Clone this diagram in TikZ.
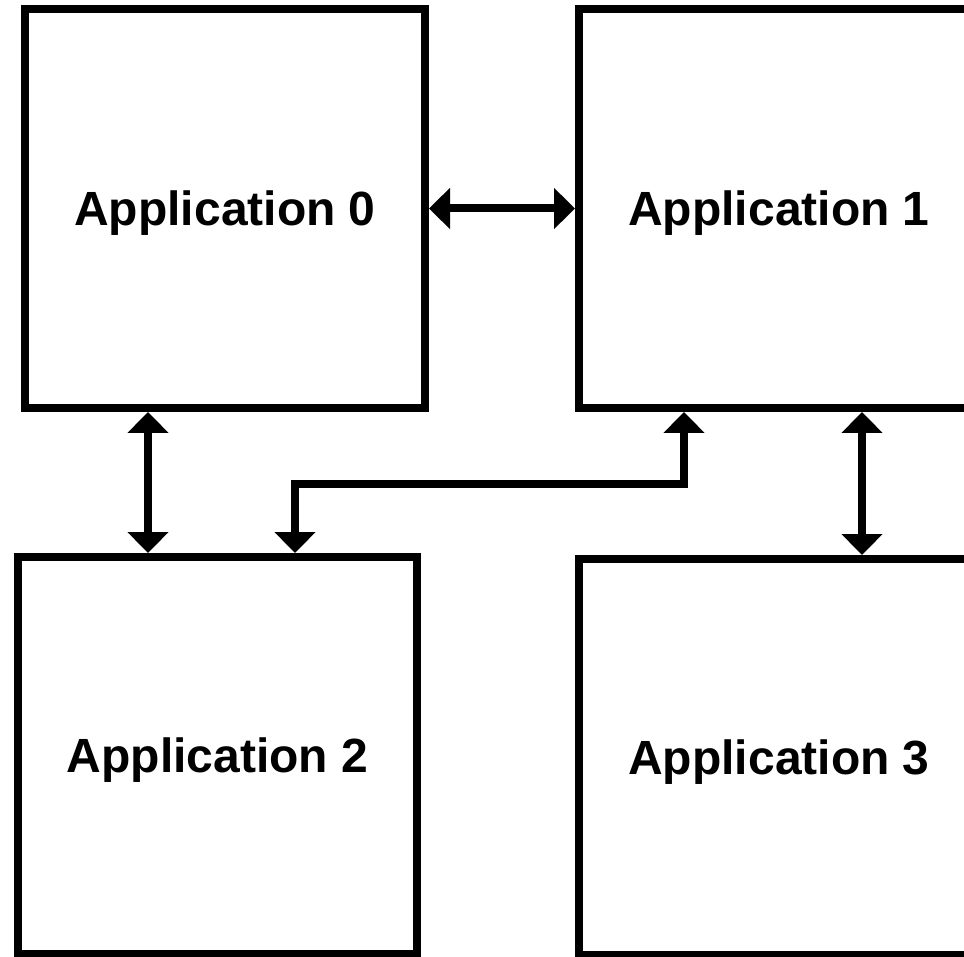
\documentclass[tikz,border=0pt]{standalone}
\usepackage{fontspec}
\setmainfont{Liberation Sans}
\usetikzlibrary{arrows.meta}

\begin{document}
\begin{tikzpicture}[x=1pt,y=1pt]
\tikzstyle{app}=[draw=black, line width=8pt, inner sep=0pt, minimum width=400pt, minimum height=399pt, text depth=0pt, font=\bfseries\fontsize{48}{58}\selectfont]
\tikzstyle{link}=[black, line width=8pt, {Triangle[width=40pt,length=21pt]}-{Triangle[width=40pt,length=21pt]}]
\useasboundingbox (0,0) rectangle (964,-957);
\node [app] (app0) at (225,-208.5) {Application 0};
\node [app] (app1) at (779,-208.5) {Application 1};
\node [app, minimum width=399pt, minimum height=397pt] (app2) at (217.5,-755.5) {Application 2};
\node [app, minimum height=396pt] (app3) at (779,-757) {Application 3};
\draw [link] (app0.east) -- (app1.west);
\draw [link] ([xshift=127pt]app0.south west) -- ([xshift=127pt]app0.south west |- app2.north);
\draw [link] ([xshift=109pt]app1.south west) -- ++(0,-72) -| ([xshift=281pt]app2.north west);
\draw [link] ([xshift=287pt]app1.south west) -- ([xshift=287pt]app1.south west |- app3.north);
\end{tikzpicture}
\end{document}
